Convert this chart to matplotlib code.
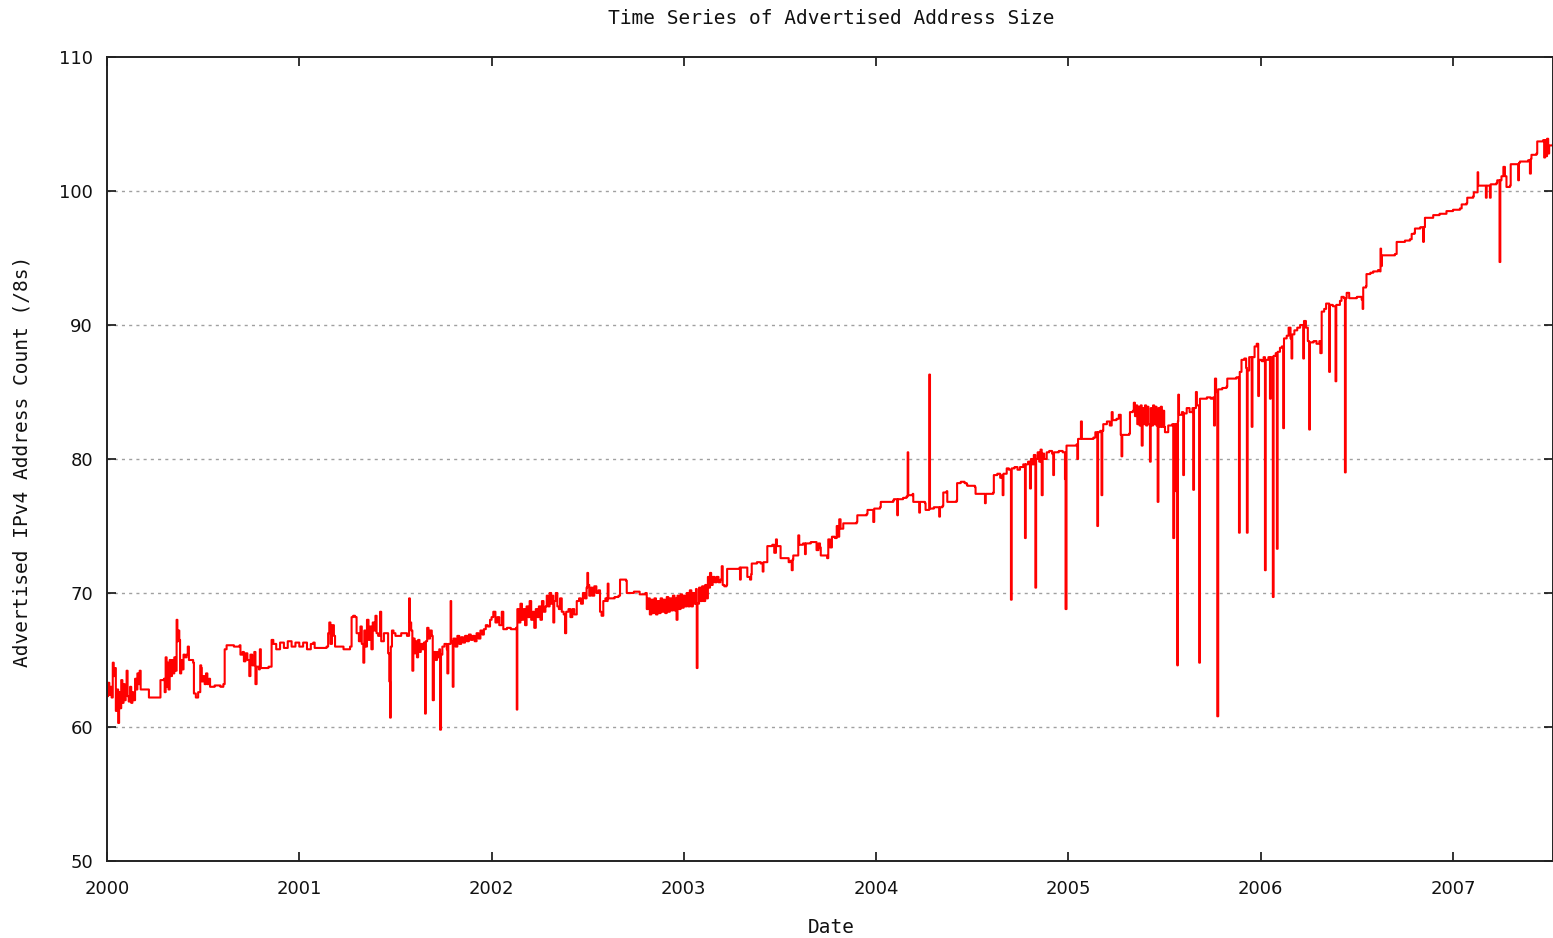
import matplotlib
matplotlib.use('Agg')
import matplotlib.pyplot as plt
import numpy as np

# ---- data: (years since 2000, /8 count) per calendar year ----
T_2000 = [0.000, 0.006, 0.012, 0.018, 0.024, 0.030, 0.035, 0.040, 0.046, 0.052, 0.058, 0.063,
          0.068, 0.074, 0.080, 0.086, 0.092, 0.097, 0.102, 0.107, 0.113, 0.120, 0.126, 0.132,
          0.137, 0.146, 0.152, 0.158, 0.164, 0.170, 0.175, 0.214, 0.218, 0.274, 0.278, 0.296,
          0.300, 0.305, 0.310, 0.316, 0.320, 0.326, 0.332, 0.338, 0.344, 0.350, 0.356, 0.362,
          0.366, 0.371, 0.376, 0.380, 0.386, 0.392, 0.398, 0.406, 0.414, 0.420, 0.426, 0.440,
          0.448, 0.452, 0.462, 0.474, 0.482, 0.485, 0.490, 0.493, 0.500, 0.508, 0.515, 0.522,
          0.530, 0.536, 0.560, 0.590, 0.605, 0.612, 0.622, 0.660, 0.690, 0.694, 0.705, 0.712,
          0.720, 0.730, 0.740, 0.746, 0.755, 0.766, 0.772, 0.778, 0.790, 0.795, 0.800, 0.840,
          0.852, 0.856, 0.865, 0.880, 0.900, 0.920, 0.940, 0.960, 0.980]
V_2000 = [62.3, 63.3, 62.4, 63.0, 62.2, 64.8, 63.8, 64.4, 61.2, 62.8, 60.3, 62.6,
          61.4, 63.5, 61.8, 63.2, 62.0, 62.8, 64.2, 62.3, 61.9, 63.0, 61.8, 62.6,
          62.0, 63.6, 62.8, 64.0, 63.2, 64.2, 62.8, 62.8, 62.2, 62.2, 63.5, 63.6,
          62.6, 65.2, 63.0, 64.8, 62.8, 65.0, 63.8, 65.0, 64.0, 65.2, 64.2, 68.0,
          66.4, 67.2, 66.5, 64.0, 65.0, 64.3, 65.4, 65.2, 65.4, 66.0, 65.0, 65.0,
          64.8, 62.5, 62.2, 62.6, 62.6, 64.6, 64.4, 63.4, 63.8, 63.2, 64.0, 63.2,
          63.6, 63.0, 63.1, 63.0, 63.2, 65.8, 66.1, 66.0, 66.1, 65.4, 65.6, 64.9,
          65.5, 65.0, 63.8, 65.4, 64.6, 65.6, 63.2, 64.5, 64.3, 65.8, 64.4, 64.5,
          64.5, 66.5, 66.2, 65.8, 66.3, 65.9, 66.4, 66.0, 66.3]

T_2001 = [1.000, 1.020, 1.040, 1.060, 1.073, 1.080, 1.142, 1.150, 1.156, 1.162, 1.170, 1.180,
          1.186, 1.230, 1.264, 1.272, 1.280, 1.290, 1.298, 1.310, 1.318, 1.325, 1.333, 1.338,
          1.345, 1.352, 1.360, 1.368, 1.375, 1.382, 1.390, 1.396, 1.402, 1.410, 1.420, 1.426,
          1.440, 1.454, 1.462, 1.468, 1.472, 1.476, 1.482, 1.490, 1.500, 1.530, 1.560, 1.571,
          1.575, 1.582, 1.588, 1.593, 1.600, 1.606, 1.612, 1.618, 1.625, 1.632, 1.640, 1.648,
          1.654, 1.658, 1.665, 1.672, 1.680, 1.689, 1.694, 1.700, 1.708, 1.716, 1.723, 1.728,
          1.732, 1.737, 1.744, 1.755, 1.767, 1.770, 1.775, 1.787, 1.790, 1.798, 1.802, 1.812,
          1.822, 1.832, 1.842, 1.852, 1.862, 1.872, 1.882, 1.892, 1.902, 1.912, 1.922, 1.932,
          1.942, 1.952, 1.960, 1.970, 1.980, 1.992]
V_2001 = [66.0, 66.3, 65.8, 66.2, 66.3, 65.9, 66.0, 67.0, 67.8, 66.2, 67.6, 66.8,
          66.0, 65.8, 66.0, 68.2, 68.3, 68.2, 67.0, 66.4, 67.5, 66.2, 64.8, 67.2,
          66.0, 68.0, 66.5, 67.5, 65.8, 67.8, 67.2, 68.3, 67.0, 66.8, 68.6, 66.4,
          67.0, 67.0, 65.5, 63.4, 60.7, 66.0, 67.2, 67.0, 66.8, 67.0, 66.8, 69.6,
          67.8, 67.2, 64.2, 66.6, 65.5, 66.4, 65.2, 66.5, 65.6, 66.2, 65.8, 66.3,
          61.0, 66.4, 67.4, 66.6, 67.2, 66.8, 62.0, 65.6, 65.0, 65.6, 65.2, 65.8,
          59.8, 65.4, 66.0, 66.2, 65.8, 64.0, 66.2, 69.4, 66.4, 63.0, 66.6, 66.0,
          66.8, 66.2, 66.7, 66.3, 66.8, 66.4, 66.9, 66.5, 66.8, 66.4, 67.0, 66.6,
          67.2, 66.9, 67.3, 67.6, 67.5, 68.0]

T_2002 = [2.000, 2.009, 2.020, 2.030, 2.040, 2.053, 2.061, 2.080, 2.100, 2.127, 2.131, 2.134,
          2.142, 2.150, 2.158, 2.166, 2.174, 2.182, 2.190, 2.198, 2.206, 2.214, 2.222, 2.230,
          2.238, 2.246, 2.254, 2.262, 2.270, 2.280, 2.287, 2.294, 2.302, 2.310, 2.318, 2.321,
          2.326, 2.334, 2.342, 2.350, 2.356, 2.365, 2.375, 2.382, 2.388, 2.400, 2.410, 2.420,
          2.430, 2.443, 2.455, 2.465, 2.475, 2.485, 2.494, 2.498, 2.502, 2.508, 2.516, 2.524,
          2.534, 2.545, 2.556, 2.564, 2.572, 2.581, 2.592, 2.600, 2.604, 2.608, 2.620, 2.640,
          2.660, 2.668, 2.700, 2.703, 2.740, 2.770, 2.800, 2.807, 2.815, 2.823, 2.831, 2.839,
          2.847, 2.855, 2.863, 2.871, 2.879, 2.887, 2.895, 2.903, 2.911, 2.919, 2.927, 2.935,
          2.943, 2.951, 2.959, 2.962, 2.967, 2.975, 2.983, 2.991, 2.999]
V_2002 = [68.2, 68.6, 67.8, 68.2, 67.6, 68.6, 67.3, 67.4, 67.3, 67.4, 61.3, 68.8,
          67.8, 69.2, 68.0, 68.8, 67.6, 69.0, 68.2, 69.4, 68.0, 68.6, 67.4, 68.8,
          68.2, 69.0, 68.0, 69.4, 68.6, 69.0, 69.8, 69.0, 70.0, 69.2, 69.8, 67.8,
          69.4, 70.0, 69.0, 68.8, 69.6, 68.6, 68.4, 67.0, 68.6, 68.8, 68.2, 68.8,
          68.4, 69.4, 69.6, 69.2, 70.0, 69.6, 70.4, 71.5, 70.6, 69.8, 70.4, 69.8,
          70.5, 70.0, 70.2, 68.6, 68.3, 69.4, 69.6, 69.4, 70.7, 69.6, 69.6, 69.7,
          69.8, 71.0, 70.9, 70.0, 70.1, 69.9, 70.0, 68.8, 69.6, 68.4, 69.5, 68.5,
          69.6, 68.4, 69.4, 68.5, 69.6, 68.6, 69.5, 68.5, 69.7, 68.6, 69.6, 68.7,
          69.8, 68.7, 69.6, 68.0, 69.8, 68.8, 69.9, 68.9, 69.8]

T_2003 = [3.007, 3.015, 3.023, 3.031, 3.039, 3.047, 3.055, 3.063, 3.067, 3.071, 3.079, 3.087,
          3.095, 3.103, 3.111, 3.119, 3.125, 3.130, 3.136, 3.142, 3.150, 3.160, 3.170, 3.180,
          3.190, 3.197, 3.202, 3.210, 3.222, 3.225, 3.230, 3.260, 3.290, 3.292, 3.296, 3.327,
          3.330, 3.344, 3.350, 3.353, 3.380, 3.400, 3.410, 3.414, 3.431, 3.434, 3.460, 3.470,
          3.479, 3.484, 3.500, 3.503, 3.530, 3.545, 3.552, 3.561, 3.566, 3.569, 3.590, 3.595,
          3.600, 3.620, 3.630, 3.634, 3.660, 3.680, 3.690, 3.700, 3.708, 3.712, 3.745, 3.751,
          3.760, 3.770, 3.785, 3.795, 3.800, 3.808, 3.815, 3.829, 3.870, 3.899, 3.902, 3.930,
          3.951, 3.955, 3.975, 3.985, 3.990]
V_2003 = [69.0, 70.0, 69.0, 70.2, 69.0, 70.0, 69.2, 70.3, 64.4, 69.2, 70.4, 69.4,
          70.5, 69.4, 70.6, 69.6, 71.2, 70.4, 71.5, 70.6, 71.2, 70.8, 71.2, 70.8,
          71.0, 72.0, 70.6, 70.5, 70.6, 71.8, 71.8, 71.8, 71.9, 71.0, 71.9, 71.9,
          71.2, 71.0, 71.4, 72.2, 72.3, 72.2, 71.6, 72.3, 72.3, 73.5, 73.6, 73.0,
          74.0, 73.5, 73.5, 72.6, 72.6, 72.3, 72.4, 71.7, 72.5, 72.8, 72.8, 74.3,
          73.6, 73.7, 72.9, 73.7, 73.8, 73.8, 73.2, 73.7, 73.4, 72.8, 72.6, 74.0,
          73.4, 74.2, 74.1, 75.0, 74.2, 75.5, 74.8, 75.2, 75.2, 75.3, 75.8, 75.8,
          75.9, 76.2, 76.2, 75.3, 76.3]

T_2004 = [4.000, 4.020, 4.024, 4.060, 4.089, 4.092, 4.110, 4.113, 4.140, 4.158, 4.164, 4.167,
          4.190, 4.193, 4.210, 4.224, 4.228, 4.254, 4.257, 4.272, 4.276, 4.280, 4.300, 4.315,
          4.328, 4.332, 4.345, 4.349, 4.367, 4.370, 4.400, 4.418, 4.421, 4.440, 4.460, 4.471,
          4.474, 4.500, 4.514, 4.517, 4.540, 4.566, 4.570, 4.600, 4.609, 4.612, 4.630, 4.645,
          4.655, 4.658, 4.662, 4.679, 4.690, 4.701, 4.705, 4.720, 4.735, 4.748, 4.765, 4.774,
          4.778, 4.790, 4.800, 4.805, 4.812, 4.820, 4.828, 4.832, 4.840, 4.848, 4.855, 4.861,
          4.866, 4.874, 4.887, 4.900, 4.915, 4.921, 4.925, 4.950, 4.970, 4.982, 4.985, 4.990]
V_2004 = [76.3, 76.4, 76.8, 76.8, 76.9, 77.0, 75.8, 77.0, 77.1, 77.2, 80.5, 77.3,
          77.4, 76.8, 76.8, 76.0, 76.8, 76.7, 76.2, 76.2, 86.3, 76.3, 76.4, 76.4,
          75.7, 76.4, 76.5, 77.5, 77.6, 76.8, 76.8, 76.9, 78.2, 78.3, 78.2, 78.1,
          78.0, 78.0, 77.9, 77.4, 77.4, 76.7, 77.4, 77.4, 77.5, 78.8, 78.9, 78.6,
          78.8, 77.3, 78.9, 79.3, 79.2, 69.5, 79.3, 79.4, 79.2, 79.4, 79.6, 74.1,
          79.6, 79.8, 77.8, 80.0, 79.6, 80.3, 70.4, 80.0, 80.5, 79.8, 80.7, 77.3,
          80.4, 80.0, 80.5, 80.6, 80.4, 78.8, 80.5, 80.6, 80.5, 78.5, 68.8, 81.0]

T_2005 = [5.000, 5.020, 5.043, 5.046, 5.050, 5.065, 5.070, 5.100, 5.130, 5.140, 5.150, 5.154,
          5.165, 5.172, 5.176, 5.181, 5.200, 5.215, 5.225, 5.230, 5.250, 5.262, 5.268, 5.272,
          5.276, 5.280, 5.300, 5.316, 5.320, 5.335, 5.340, 5.346, 5.352, 5.358, 5.364, 5.370,
          5.376, 5.381, 5.386, 5.392, 5.398, 5.404, 5.410, 5.416, 5.424, 5.428, 5.434, 5.440,
          5.446, 5.452, 5.458, 5.464, 5.468, 5.474, 5.480, 5.486, 5.492, 5.498, 5.502, 5.515,
          5.519, 5.540, 5.545, 5.550, 5.559, 5.563, 5.566, 5.569, 5.571, 5.575, 5.590, 5.597,
          5.601, 5.615, 5.630, 5.645, 5.649, 5.653, 5.663, 5.668, 5.680, 5.684, 5.700, 5.720,
          5.740, 5.753, 5.757, 5.762, 5.768, 5.774, 5.779, 5.800, 5.822, 5.826, 5.850, 5.874,
          5.880, 5.887, 5.891, 5.900, 5.915, 5.924, 5.928, 5.932, 5.940, 5.953, 5.957, 5.968,
          5.979, 5.987, 5.991]
V_2005 = [81.0, 81.0, 81.1, 80.0, 81.5, 82.8, 81.5, 81.5, 81.6, 82.0, 75.0, 82.0,
          82.1, 77.3, 82.1, 82.6, 82.8, 82.5, 83.5, 82.9, 83.0, 83.3, 83.3, 81.8,
          80.2, 81.8, 81.8, 81.9, 83.5, 83.6, 84.2, 83.2, 84.0, 82.6, 83.9, 82.5,
          84.0, 81.0, 83.8, 82.6, 84.0, 82.5, 83.9, 82.6, 79.8, 83.8, 82.5, 84.0,
          82.6, 83.9, 82.5, 76.8, 83.8, 82.4, 83.9, 82.4, 83.6, 82.4, 82.0, 82.0,
          82.5, 82.6, 74.1, 82.6, 77.6, 82.6, 64.6, 82.8, 84.8, 83.3, 83.5, 78.8,
          83.4, 83.8, 83.5, 83.8, 77.7, 83.8, 85.0, 84.0, 64.8, 84.5, 84.5, 84.6,
          84.5, 84.6, 82.5, 86.0, 85.0, 60.8, 85.2, 85.3, 85.4, 86.0, 86.0, 86.1,
          86.1, 74.5, 86.5, 87.4, 87.5, 86.8, 74.5, 86.6, 87.6, 82.4, 87.6, 88.4,
          88.6, 84.7, 87.4]

T_2006 = [6.005, 6.015, 6.022, 6.026, 6.040, 6.048, 6.052, 6.063, 6.067, 6.078, 6.084, 6.088,
          6.100, 6.110, 6.117, 6.121, 6.135, 6.145, 6.155, 6.160, 6.164, 6.175, 6.190, 6.205,
          6.221, 6.225, 6.235, 6.245, 6.252, 6.256, 6.275, 6.290, 6.305, 6.310, 6.317, 6.330,
          6.340, 6.356, 6.360, 6.375, 6.389, 6.393, 6.412, 6.420, 6.432, 6.438, 6.442, 6.447,
          6.460, 6.480, 6.500, 6.525, 6.530, 6.533, 6.548, 6.550, 6.570, 6.585, 6.610, 6.620,
          6.623, 6.626, 6.630, 6.660, 6.698, 6.707, 6.724, 6.750, 6.776, 6.785, 6.800, 6.802,
          6.810, 6.830, 6.845, 6.848, 6.854, 6.880, 6.897, 6.930, 6.966]
V_2006 = [87.3, 87.6, 71.7, 87.4, 87.6, 84.5, 87.6, 69.7, 87.7, 87.9, 73.3, 88.0,
          88.3, 88.4, 82.3, 89.0, 89.2, 89.8, 89.0, 87.5, 89.3, 89.6, 89.8, 90.0,
          87.5, 90.3, 89.8, 88.8, 82.2, 88.7, 88.8, 88.6, 88.8, 87.9, 91.0, 91.2,
          91.6, 86.5, 91.5, 91.4, 85.8, 91.5, 91.8, 92.1, 92.0, 79.0, 92.0, 92.4,
          92.0, 92.0, 92.1, 91.9, 91.2, 92.8, 92.9, 93.8, 93.9, 94.0, 94.1, 94.0,
          95.7, 94.4, 95.2, 95.2, 95.3, 96.2, 96.2, 96.3, 96.4, 96.8, 96.9, 97.2,
          97.2, 97.3, 96.2, 97.3, 98.0, 98.0, 98.2, 98.3, 98.5]

T_2007 = [7.000, 7.036, 7.045, 7.071, 7.074, 7.105, 7.108, 7.128, 7.131, 7.150, 7.171, 7.175,
          7.192, 7.196, 7.226, 7.230, 7.242, 7.246, 7.252, 7.262, 7.270, 7.278, 7.296, 7.300,
          7.330, 7.339, 7.343, 7.348, 7.391, 7.400, 7.405, 7.408, 7.434, 7.438, 7.469, 7.474,
          7.479, 7.484, 7.489, 7.495, 7.500, 7.520]
V_2007 = [98.6, 98.7, 99.0, 99.1, 99.5, 99.6, 99.9, 101.4, 100.4, 100.4, 99.5, 100.4,
          99.5, 100.5, 100.6, 100.8, 94.7, 100.8, 101.1, 101.8, 101.1, 100.3, 100.4, 102.0,
          102.0, 100.8, 102.1, 102.2, 102.3, 101.3, 102.4, 102.7, 102.8, 103.7, 103.8, 102.5,
          103.8, 102.6, 103.9, 102.8, 103.4, 103.5]

YEAR_TICKS = [2000, 2001, 2002, 2003, 2004, 2005, 2006, 2007]
Y_TICKS = [50, 60, 70, 80, 90, 100, 110]

t = np.concatenate([T_2000, T_2001, T_2002, T_2003, T_2004, T_2005, T_2006, T_2007])
v = np.concatenate([V_2000, V_2001, V_2002, V_2003, V_2004, V_2005, V_2006, V_2007])
dates = 2000 + t

MONO = 'DejaVu Sans Mono'

fig = plt.figure(figsize=(15.53, 9.38), dpi=100)
fig.patch.set_facecolor('white')
ax = fig.add_axes([107 / 1553, 1 - 861 / 938, 1 - 107 / 1553, (861 - 57) / 938])

# daily samples -> step look like the gnuplot original
ax.plot(dates, v, color='#ff0000', linewidth=1.5, drawstyle='steps-post')

ax.set_xlim(2000, 2007.52)
ax.set_ylim(50, 110)
ax.set_xticks(YEAR_TICKS)
ax.set_xticklabels([str(y) for y in YEAR_TICKS])
ax.set_yticks(Y_TICKS)

# dotted horizontal grid only at inner ticks
for yv in Y_TICKS[1:-1]:
    ax.axhline(yv, color='#a0a0a0', linewidth=1.0, linestyle=(0, (2.2, 3.0)), zorder=0)

ax.tick_params(axis='both', direction='in', length=6.5, width=1.2, color='#111111',
               labelsize=13, top=True, right=True)
ax.tick_params(axis='x', pad=14)
ax.tick_params(axis='y', pad=10)
for lab in ax.get_xticklabels() + ax.get_yticklabels():
    lab.set_color('#111111')

for side in ['left', 'bottom', 'top', 'right']:
    ax.spines[side].set_linewidth(1.4)
    ax.spines[side].set_color('#222222')

fig.text(831 / 1553, 1 - 18 / 938, 'Time Series of Advertised Address Size',
         ha='center', va='center', fontsize=14, family=MONO, color='#111111')
fig.text(831 / 1553, 1 - 927 / 938, 'Date',
         ha='center', va='center', fontsize=14, family=MONO, color='#111111')
fig.text(22 / 1553, 1 - 461 / 938, 'Advertised IPv4 Address Count (/8s)',
         ha='center', va='center', rotation=90, fontsize=14, family=MONO, color='#111111')

fig.savefig('out.png', dpi=100, facecolor='white')
plt.close(fig)
